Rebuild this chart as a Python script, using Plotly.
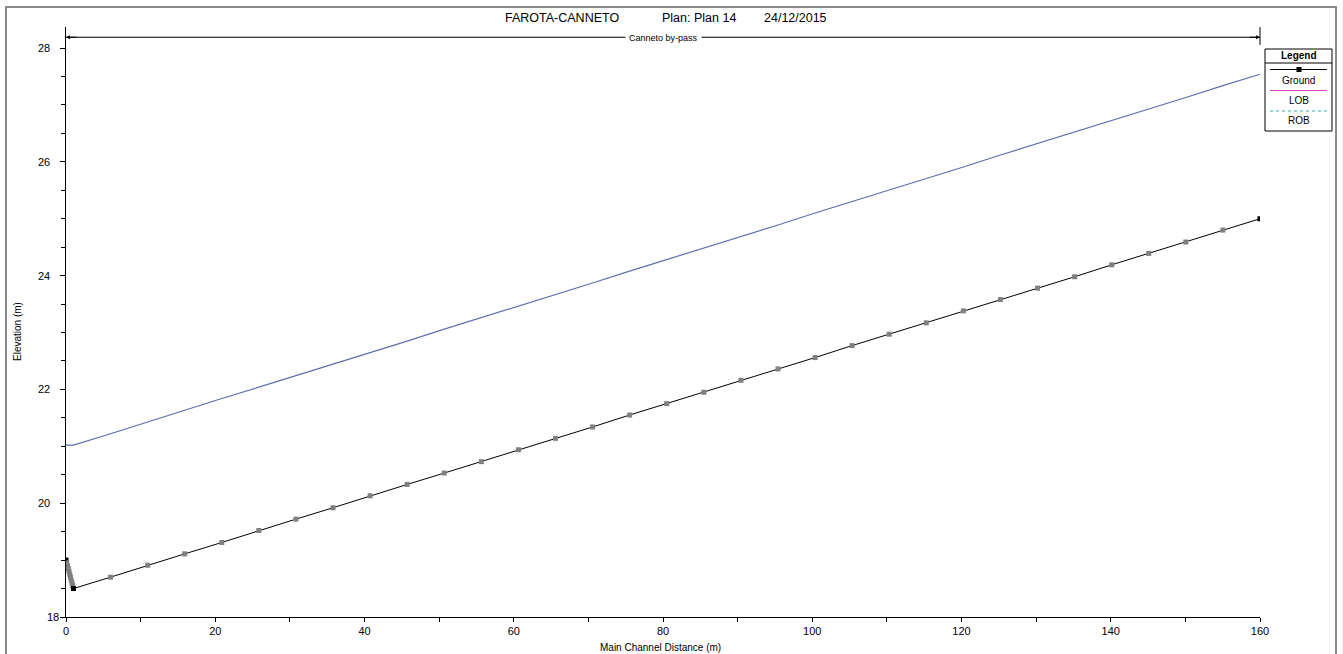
import plotly.graph_objects as go

# ---------------- data ----------------
ground_x = [0, 0.1, 0.2, 0.3, 0.4, 0.5, 0.6, 0.7, 0.8, 0.9, 1.0,
            5.97, 10.94, 15.91, 20.88, 25.84, 30.81, 35.78, 40.75, 45.72, 50.69,
            55.66, 60.63, 65.59, 70.56, 75.53, 80.50, 85.47, 90.44, 95.41, 100.38,
            105.34, 110.31, 115.28, 120.25, 125.22, 130.19, 135.16, 140.13, 145.09, 150.06,
            155.03, 160]
ground_elev = [19.00, 18.95, 18.90, 18.85, 18.80, 18.75, 18.70, 18.65, 18.60, 18.55, 18.50,
               18.70, 18.91, 19.11, 19.31, 19.52, 19.72, 19.92, 20.13, 20.33, 20.53,
               20.73, 20.94, 21.14, 21.34, 21.55, 21.75, 21.95, 22.16, 22.36, 22.56,
               22.77, 22.97, 23.17, 23.38, 23.58, 23.78, 23.98, 24.19, 24.39, 24.59,
               24.80, 25.00]
# real cross sections (black) vs interpolated (gray)
real_xs = [True] + [False] * 9 + [True] + [False] * 31 + [True]
bank_elev = [21.02] * 11 + [21.22, 21.43, 21.63, 21.84, 22.04, 22.24, 22.45, 22.65, 22.85, 23.06,
                            23.26, 23.47, 23.67, 23.87, 24.08, 24.28, 24.48, 24.69, 24.89, 25.10,
                            25.30, 25.50, 25.71, 25.91, 26.12, 26.32, 26.52, 26.73, 26.93, 27.13,
                            27.34, 27.54]
reach_name = "Canneto by-pass"
reach_start, reach_end = 0, 160
title_parts = ["FAROTA-CANNETO", "Plan: Plan 14", "24/12/2015"]
legend_items = ["Ground", "LOB", "ROB"]
x_ticks = [0, 20, 40, 60, 80, 100, 120, 140, 160]
y_ticks = [18, 20, 22, 24, 26, 28]

# ---------------- geometry helpers ----------------
W, H = 1343, 654
L, R, T, B = 66, 83, 27, 37
PW, PH = W - L - R, H - T - B
FONT = "Liberation Sans, Arial, sans-serif"


def px(xp):
    return (xp - L) / PW


def py(yp):
    return (H - B - yp) / PH


def label(xp, yp, text, size=10, angle=0, xanchor="center"):
    return dict(x=px(xp), y=py(yp), xref="paper", yref="paper", text=text,
                showarrow=False, xanchor=xanchor, yanchor="middle", textangle=angle,
                font=dict(family=FONT, size=size, color="black"))


fig = go.Figure()

fig.add_trace(go.Scatter(x=ground_x, y=bank_elev, mode="lines", name="LOB / ROB",
                         line=dict(color="#5b6fae", width=1.2), showlegend=False))
fig.add_trace(go.Scatter(x=ground_x, y=ground_elev, mode="lines+markers", name="Ground",
                         line=dict(color="black", width=1),
                         marker=dict(symbol="square", size=5,
                                     color=["black" if r else "#808080" for r in real_xs],
                                     line=dict(width=0)),
                         showlegend=False))

reach_y = 28.19
shapes = []
annotations = []
# reach line with label
shapes.append(dict(type="line", xref="x", yref="y", x0=reach_start, x1=reach_end,
                   y0=reach_y, y1=reach_y, line=dict(color="black", width=1)))
shapes.append(dict(type="line", xref="paper", yref="paper", x0=px(1260), x1=px(1260),
                   y0=py(27), y1=py(45), line=dict(color="black", width=1)))
annotations.append(dict(x=(reach_start + reach_end) / 2, y=reach_y, xref="x", yref="y",
                        text=reach_name, showarrow=False, bgcolor="white",
                        xanchor="center", yanchor="middle", yshift=-1,
                        font=dict(family=FONT, size=9, color="black"), borderpad=3))
annotations.append(dict(x=reach_start, y=reach_y, xref="x", yref="y", ax=12, ay=0,
                        text="", showarrow=True, arrowhead=2, arrowsize=0.8,
                        arrowwidth=1, arrowcolor="black"))
annotations.append(dict(x=reach_end, y=reach_y, xref="x", yref="y", ax=-12, ay=0,
                        text="", showarrow=True, arrowhead=2, arrowsize=0.8,
                        arrowwidth=1, arrowcolor="black"))

# outer frame
shapes.append(dict(type="rect", xref="paper", yref="paper", x0=px(6), x1=px(1336),
                   y0=py(662), y1=py(7), line=dict(color="#8a8a8a", width=2)))

# legend box
lx0, lx1 = 1265, 1332
lcx = (lx0 + lx1) / 2
shapes.append(dict(type="rect", xref="paper", yref="paper", x0=px(lx0), x1=px(lx1),
                   y0=py(131), y1=py(49), line=dict(color="black", width=1),
                   fillcolor="white"))
shapes.append(dict(type="line", xref="paper", yref="paper", x0=px(lx0), x1=px(lx1),
                   y0=py(63), y1=py(63), line=dict(color="black", width=1)))
annotations.append(label(lcx, 55.5, "<b>Legend</b>", size=10))
sample_styles = [dict(color="black", width=1, dash="solid"),
                 dict(color="#d040c8", width=1, dash="solid"),
                 dict(color="#40a8a8", width=1, dash="dot")]
sample_y = [69.5, 90.5, 111]
text_y = [80.5, 100.5, 120.5]
for name, st, sy, ty in zip(legend_items, sample_styles, sample_y, text_y):
    shapes.append(dict(type="line", xref="paper", yref="paper", x0=px(1270), x1=px(1327),
                       y0=py(sy), y1=py(sy), line=st))
    annotations.append(label(lcx, ty, name, size=10))
shapes.append(dict(type="rect", xref="paper", yref="paper", x0=px(1296.5), x1=px(1301.5),
                   y0=py(67), y1=py(72), line=dict(width=0), fillcolor="black"))

# title (three parts as in the reference spacing)
for part, cx in zip(title_parts, [562, 699, 795]):
    annotations.append(label(cx, 18, part, size=12.5))
# axis titles
annotations.append(label(660, 647, "Main Channel Distance (m)", size=10))
annotations.append(label(17, 332, "Elevation (m)", size=10, angle=-90))
# y-axis tick labels (the lowest one sits closer to the axis, as in the reference)
for v in y_ticks:
    yp = 617 - (v - 18) * (PH / 10.37)
    if v == y_ticks[0]:
        annotations.append(label(61, yp, str(v), size=11, xanchor="right"))
    else:
        annotations.append(label(52, yp, str(v), size=11, xanchor="right"))

fig.update_layout(
    width=W, height=H,
    margin=dict(l=L, r=R, t=T, b=B, pad=0),
    paper_bgcolor="white", plot_bgcolor="white",
    showlegend=False,
    shapes=shapes, annotations=annotations,
    font=dict(family=FONT, size=11, color="black"),
)
fig.update_xaxes(range=[0, 160], tickvals=x_ticks,
                 showgrid=False, zeroline=False, showline=True, linecolor="black",
                 linewidth=1, ticks="outside", ticklen=4, tickcolor="black",
                 minor=dict(dtick=10, tick0=0, ticks="outside", ticklen=4, tickcolor="black"),
                 tickfont=dict(family=FONT, size=11))
fig.update_yaxes(range=[18, 28.37], tickvals=y_ticks, showticklabels=False,
                 showgrid=False, zeroline=False, showline=True, linecolor="black",
                 linewidth=1, ticks="outside", ticklen=5, tickcolor="black",
                 minor=dict(dtick=0.5, tick0=18, ticks="outside", ticklen=4, tickcolor="black"))

fig.write_html("out.html")
